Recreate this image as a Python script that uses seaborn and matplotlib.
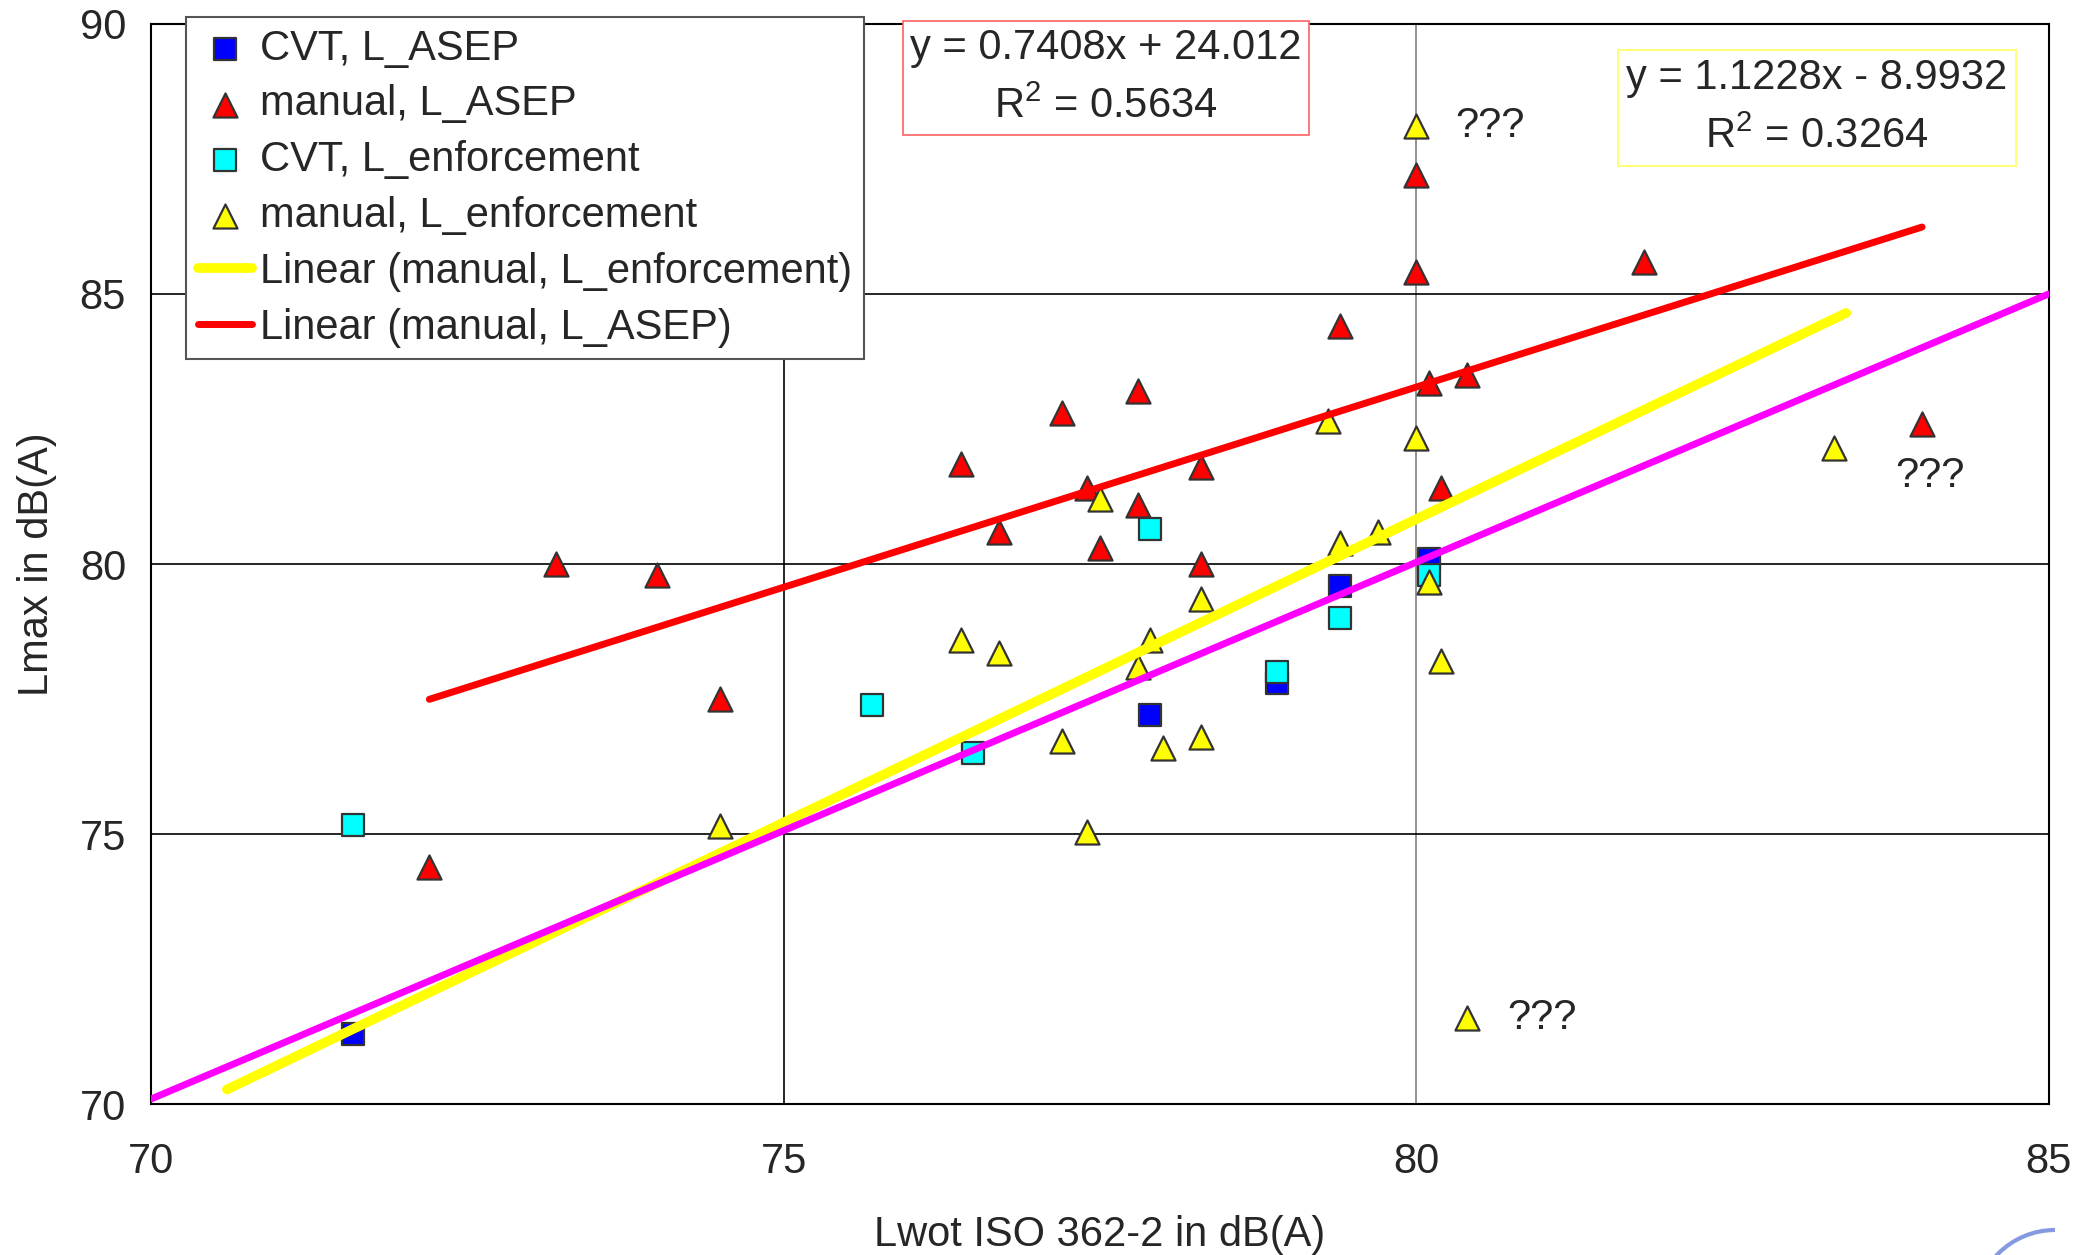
import numpy as np
import matplotlib.pyplot as plt
import seaborn as sns
from matplotlib.patches import Arc
from matplotlib.ticker import MultipleLocator

# CVT, L_ASEP
cvt_asep_x = [71.6, 77.9, 78.9, 79.4, 80.1]
cvt_asep_y = [71.3, 77.2, 77.8, 79.6, 80.1]

# manual, L_ASEP
man_asep_x = [73.2, 74.0, 74.5, 72.2, 76.4, 76.7, 77.2, 77.4, 77.5, 77.8, 77.8,
              78.3, 78.3, 79.4, 80.0, 80.0, 80.1, 80.4, 80.2, 81.8, 84.0]
man_asep_y = [80.0, 79.8, 77.5, 74.4, 81.85, 80.6, 82.8, 81.4, 80.3, 83.2, 81.1,
              81.8, 80.0, 84.4, 87.2, 85.4, 83.35, 83.5, 81.4, 85.6, 82.6]

# CVT, L_enforcement
cvt_enf_x = [71.6, 75.7, 76.5, 77.9, 78.9, 79.4, 80.1]
cvt_enf_y = [75.17, 77.4, 76.5, 80.65, 78.0, 79.0, 79.8]

# manual, L_enforcement
man_enf_x = [74.5, 76.4, 76.7, 77.2, 77.4, 77.5, 77.8, 77.9, 78.0, 78.3,
             78.3, 79.3, 79.4, 79.7, 80.0, 80.0, 80.1, 80.2, 80.4, 83.3]
man_enf_y = [75.15, 78.6, 78.36, 76.72, 75.05, 81.2, 78.09, 78.6, 76.6, 79.35,
             76.8, 82.65, 80.4, 80.6, 88.1, 82.33, 79.67, 78.2, 71.6, 82.15]

# trend lines (Excel equations) and their x ranges
asep_slope, asep_icept = 0.7408, 24.012
asep_r2 = 0.5634
asep_fit_x = [72.2, 84.0]
enf_slope, enf_icept = 1.1228, -8.9932
enf_r2 = 0.3264
enf_fit_x = [70.6, 83.4]

# reference line (magenta)
ref_x = [70.0, 85.0]
ref_y = [70.1, 85.0]

# points flagged with "???"
flag_x = [80.0, 84.0, 80.4]
flag_y = [88.1, 82.6, 71.6]
flag_offsets = [(53, 0), (6, -38), (54, 0)]

sns.set_style("white")
plt.rcParams['font.family'] = ['Liberation Sans', 'DejaVu Sans']
plt.rcParams['mathtext.fontset'] = 'custom'
plt.rcParams['mathtext.rm'] = 'Liberation Sans'
plt.rcParams['mathtext.it'] = 'Liberation Sans'
FS = 30

fig = plt.figure(figsize=(20.84, 12.55), dpi=100)
ax = fig.add_axes([0.0725, 0.12, 0.9105, 0.861])

edge = '#333333'
sns.scatterplot(x=cvt_asep_x, y=cvt_asep_y, marker='s', s=230, color='#0000ff',
                edgecolor=edge, linewidth=1.6, label='CVT, L_ASEP', ax=ax, zorder=3)
sns.scatterplot(x=man_asep_x, y=man_asep_y, marker='^', s=300, color='#ff0000',
                edgecolor=edge, linewidth=1.6, label='manual, L_ASEP', ax=ax, zorder=3)
sns.scatterplot(x=cvt_enf_x, y=cvt_enf_y, marker='s', s=230, color='#00ffff',
                edgecolor=edge, linewidth=1.6, label='CVT, L_enforcement', ax=ax, zorder=3)
sns.scatterplot(x=man_enf_x, y=man_enf_y, marker='^', s=300, color='#ffff00',
                edgecolor=edge, linewidth=1.6, label='manual, L_enforcement', ax=ax, zorder=3)

enf_fit_y = [enf_slope * v + enf_icept for v in enf_fit_x]
asep_fit_y = [asep_slope * v + asep_icept for v in asep_fit_x]
sns.lineplot(x=enf_fit_x, y=enf_fit_y, color='#ffff00', linewidth=7,
             solid_capstyle='round', label='Linear (manual, L_enforcement)', ax=ax, zorder=4)
sns.lineplot(x=asep_fit_x, y=asep_fit_y, color='#ff0000', linewidth=5,
             solid_capstyle='round', label='Linear (manual, L_ASEP)', ax=ax, zorder=4)
sns.lineplot(x=ref_x, y=ref_y, color='#ff00ff', linewidth=5, ax=ax, zorder=5)

ax.set_xlim(70, 85)
ax.set_ylim(70, 90)
ax.xaxis.set_major_locator(MultipleLocator(5))
ax.xaxis.set_minor_locator(MultipleLocator(1))
ax.yaxis.set_major_locator(MultipleLocator(5))
ax.yaxis.set_minor_locator(MultipleLocator(1))
ax.tick_params(which='both', direction='inout', length=14, width=1.2, color='black')
ax.tick_params(axis='x', which='major', labelsize=FS, pad=20)
ax.tick_params(axis='y', which='major', labelsize=FS, pad=11)

ax.grid(True, which='major', color='black', linewidth=1.2)
for loc, gl in zip(ax.get_xticks(), ax.xaxis.get_gridlines()):
    if loc == 80:
        gl.set_color('#808080')
for sp in ax.spines.values():
    sp.set_color('black')
    sp.set_linewidth(1.5)

ax.set_xlabel('Lwot ISO 362-2 in dB(A)', fontsize=FS, labelpad=24)
ax.set_ylabel('Lmax in dB(A)', fontsize=FS, labelpad=16)

# equation boxes
ax.text(77.55, 89.0, f'y = {asep_slope:.4f}x + {asep_icept:.3f}\nR$^2$ = {asep_r2:.4f}',
        ha='center', va='center', fontsize=FS, linespacing=1.6, clip_on=False, zorder=6,
        bbox=dict(boxstyle='square,pad=0.17', facecolor='white', edgecolor='#ff6060', linewidth=1.2))
ax.text(83.17, 88.45, f'y = {enf_slope:.4f}x - {-enf_icept:.4f}\nR$^2$ = {enf_r2:.4f}',
        ha='center', va='center', fontsize=FS, linespacing=1.6, clip_on=False, zorder=6,
        bbox=dict(boxstyle='square,pad=0.2', facecolor='white', edgecolor='#ffff60', linewidth=1.2))

for fx, fy, off in zip(flag_x, flag_y, flag_offsets):
    ax.annotate('???', xy=(fx, fy), xytext=off, textcoords='offset points',
                ha='center', va='center', fontsize=FS, zorder=6)

handles, labels = ax.get_legend_handles_labels()
order = ['CVT, L_ASEP', 'manual, L_ASEP', 'CVT, L_enforcement', 'manual, L_enforcement',
         'Linear (manual, L_enforcement)', 'Linear (manual, L_ASEP)']
hmap = dict(zip(labels, handles))
leg = ax.legend([hmap[k] for k in order], order, loc='upper left',
                bbox_to_anchor=(0.0893, 0.9865), bbox_transform=fig.transFigure,
                fontsize=FS, frameon=True, fancybox=False, framealpha=1,
                edgecolor='#555555', handlelength=1.3, handletextpad=0.2,
                labelspacing=0.38, borderpad=0.28, borderaxespad=0)
leg.get_frame().set_linewidth(1.5)
leg.set_zorder(7)

# partial logo arc in bottom-right corner
fig.patches.append(Arc((2055 / 2084, 1 - 1310 / 1255), 160 / 2084, 160 / 1255,
                       theta1=90, theta2=180, transform=fig.transFigure,
                       color='#6680d8', linewidth=3, alpha=0.8))

fig.savefig('out.png', dpi=100)
